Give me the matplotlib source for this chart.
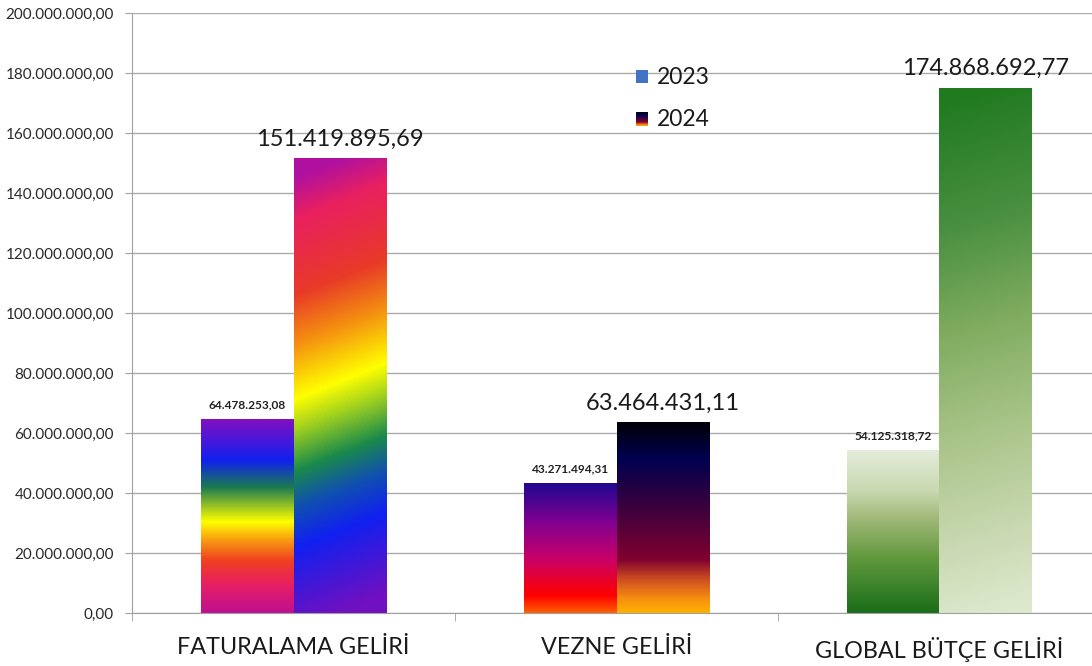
import numpy as np
import matplotlib
matplotlib.use('Agg')
import matplotlib.pyplot as plt
from matplotlib.colors import LinearSegmentedColormap
from matplotlib.patches import Rectangle

plt.rcParams['font.family'] = ['Lato', 'DejaVu Sans']

categories = ['FATURALAMA GELİRİ', 'VEZNE GELİRİ', 'GLOBAL BÜTÇE GELİRİ']
values_2023 = [64478253.08, 43271494.31, 54125318.72]
values_2024 = [151419895.69, 63464431.11, 174868692.77]
y_ticks = [0, 20e6, 40e6, 60e6, 80e6, 100e6, 120e6, 140e6, 160e6, 180e6, 200e6]

# gradient stops, top of bar -> bottom of bar
grad_2023 = [
    [(0.0, '#8010c0'), (0.21, '#1020f0'), (0.35, '#1a7a50'), (0.53, '#ffff00'),
     (0.62, '#f8a010'), (0.73, '#f04020'), (0.85, '#e82060'), (1.0, '#c01090')],
    [(0.0, '#200890'), (0.3, '#800090'), (0.58, '#c80068'), (0.87, '#ff0000'), (1.0, '#ff6000')],
    [(0.0, '#e4ecda'), (0.25, '#c8d8b0'), (0.42, '#a0b878'), (0.67, '#60983c'), (1.0, '#1a6e1a')],
]
grad_2024 = [
    [(0.0, '#b010a0'), (0.09, '#e82060'), (0.26, '#e83a28'), (0.37, '#f59010'), (0.49, '#ffff00'),
     (0.56, '#a0d020'), (0.65, '#1a8a4a'), (0.73, '#1050b0'), (0.82, '#1020f0'), (1.0, '#7010c0')],
    [(0.0, '#000008'), (0.19, '#000050'), (0.4, '#300040'), (0.72, '#800030'),
     (0.83, '#d05020'), (0.93, '#f89010'), (1.0, '#ffb000')],
    [(0.0, '#207a20'), (0.25, '#4a9040'), (0.45, '#80ac60'), (0.65, '#a8c488'),
     (0.85, '#c8d8b0'), (1.0, '#dce8cc')],
]
tilt_2024 = [0.08, 0.0, 0.05]


def tr_fmt(v):
    return f'{v:,.2f}'.replace(',', '#').replace('.', ',').replace('#', '.')


def grad_bar(ax, x, h, w, stops, tilt=0.0):
    cmap = LinearSegmentedColormap.from_list('g', stops)
    yy, xx = np.mgrid[0:1:300j, 0:1:60j]
    t = np.clip(yy + tilt * (xx - 0.5), 0, 1)
    ax.imshow(t, cmap=cmap, vmin=0, vmax=1, extent=[x - w / 2, x + w / 2, 0, h],
              origin='upper', aspect='auto', interpolation='bilinear', zorder=2)


fig = plt.figure(figsize=(10.92, 6.66), dpi=100)
ax = fig.add_axes([132 / 1092, 53 / 666, 969 / 1092, 600 / 666])

w = 0.2875
for i in range(len(categories)):
    grad_bar(ax, i - w / 2, values_2023[i], w, grad_2023[i])
    grad_bar(ax, i + w / 2, values_2024[i], w, grad_2024[i], tilt_2024[i])
    ax.annotate(tr_fmt(values_2023[i]), (i - w / 2, values_2023[i]), xytext=(0, 8),
                textcoords='offset points', ha='center', va='baseline',
                fontsize=8.6, fontweight='bold', color='#222222')
    ax.annotate(tr_fmt(values_2024[i]), (i + w / 2, values_2024[i]), xytext=(0, 9.4),
                textcoords='offset points', ha='center', va='baseline',
                fontsize=17, color='#1a1a1a')

ax.set_xlim(-0.5, 2.5)
ax.set_ylim(0, 200e6)
ax.set_yticks(y_ticks)
ax.set_yticklabels([tr_fmt(v) for v in y_ticks], fontsize=11, color='#2a2a2a')
ax.set_xticks(range(len(categories)))
ax.set_xticklabels(categories, fontsize=16.8, color='#1a1a1a')
ax.set_xticks([-0.5, 0.5, 1.5, 2.5], minor=True)
ax.tick_params(axis='x', which='major', length=0, pad=17)
ax.tick_params(axis='x', which='minor', length=6, color='#a0a0a0')
ax.tick_params(axis='y', length=5, color='#a0a0a0', pad=8)

ax.grid(axis='y', color='#ababab', linewidth=1)
ax.set_axisbelow(True)
for s in ['top', 'right']:
    ax.spines[s].set_visible(False)
for s in ['left', 'bottom']:
    ax.spines[s].set_color('#a0a0a0')

# legend drawn by hand
fig.patches.append(Rectangle((636 / 1092, 1 - 83 / 666), 12 / 1092, 13 / 666,
                             transform=fig.transFigure, facecolor='#4472c4', edgecolor='none'))
fig.text(657 / 1092, 1 - 77 / 666, '2023', fontsize=16.5, va='center', ha='left', color='#1a1a1a')
lax = fig.add_axes([636 / 1092, 1 - 126 / 666, 12 / 1092, 14 / 666])
lax.imshow(np.linspace(0, 1, 50).reshape(-1, 1),
           cmap=LinearSegmentedColormap.from_list('l', grad_2024[1]), aspect='auto')
lax.axis('off')
fig.text(657 / 1092, 1 - 119 / 666, '2024', fontsize=16.5, va='center', ha='left', color='#1a1a1a')

fig.savefig('out.png', dpi=100)
